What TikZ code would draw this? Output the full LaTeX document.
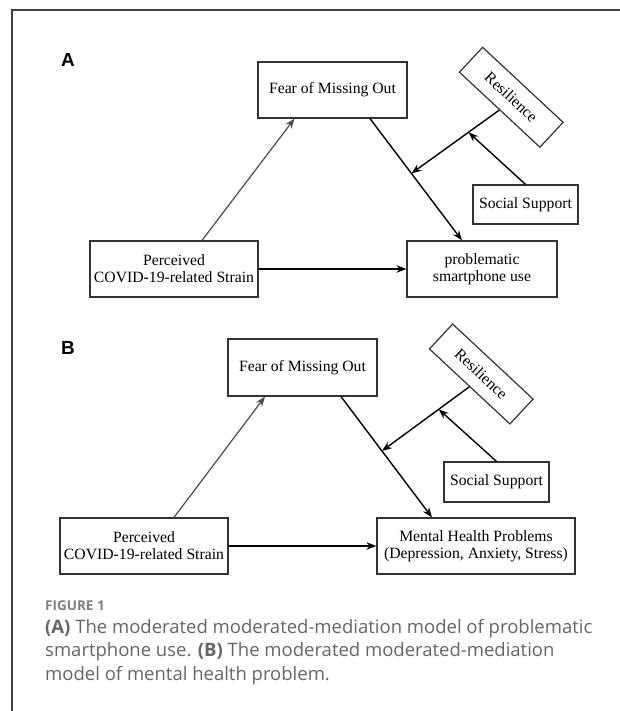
\documentclass[tikz,border=0pt]{standalone}
\usepackage{fontspec}
\setmainfont{Liberation Serif}
\newfontfamily\capfont{Open Sans}
\newfontfamily\labfont{Liberation Sans}
\usetikzlibrary{arrows.meta,calc}
\definecolor{boxgray}{HTML}{333333}
\definecolor{capgray}{HTML}{666666}
\definecolor{figgray}{HTML}{808080}
\begin{document}
\begin{tikzpicture}[x=1pt,y=-1pt,
  box/.style={draw=boxgray, line width=1.2pt, inner sep=0pt, align=center,
    font=\fontsize{15.7}{17}\selectfont},
  arr/.style={draw=black, line width=1.4pt, -{Stealth[length=10pt,width=7.5pt]}},
  garr/.style={draw=black!70, line width=1.2pt, -{Stealth[length=10pt,width=7.5pt]}},
  panel/.style={font=\labfont\bfseries\fontsize{19}{19}\selectfont, anchor=base west, inner sep=0pt},
  captxt/.style={font=\capfont\fontsize{18.5}{22}\selectfont, text=capgray, anchor=base west, inner sep=0pt},
  figlab/.style={font=\capfont\bfseries\fontsize{13.5}{15}\selectfont, text=figgray, anchor=base west, inner sep=0pt}]
\useasboundingbox (0,0) rectangle (620,711);
\fill[white] (0,0) rectangle (620,711);
\draw[line width=1.2pt, black!75] (12,711) -- (12,10) -- (620,10);

% Panel A
\node[panel] (labA) at (61,66.5) {A};
\node[box, minimum width=149pt, minimum height=56pt] (fomoA) at (332.5,90) {Fear of Missing Out};
\node[box, minimum width=110pt, minimum height=34pt, rotate=-43] (resA) at (511.25,97.25) {Resilience};
\node[box, minimum width=105pt, minimum height=39pt] (ssA) at (525.5,204.5) {Social Support};
\node[box, minimum width=168pt, minimum height=56pt] (percA) at (174,269) {Perceived\\COVID-19-related Strain};
\node[box, minimum width=150pt, minimum height=56pt] (probA) at (482,269) {problematic\\smartphone use};
\coordinate (a0) at ($(percA.north)+(28,0)$);
\coordinate (a00) at ($(fomoA.south)+(-38,0)$);
\draw[garr] (a0) -- (a00);
\coordinate (a1) at ($(fomoA.south)+(37.5,0)$);
\coordinate (a2) at ($(probA.north)+(-20,0)$);
\draw[arr] (a1) -- (a2);
\draw[arr] (percA.east) -- (probA.west);
\coordinate (am) at ($(a1)!0.45!(a2)$);
\draw[arr] (resA.south) -- (am);
\coordinate (as) at ($(resA.south)!0.35!(am)$);
\draw[arr] (ssA.north) -- (as);

% Panel B
\node[panel] (labB) at (61,354) {B};
\node[box, minimum width=149pt, minimum height=57pt] (fomoB) at (302.5,367.5) {Fear of Missing Out};
\node[box, minimum width=110pt, minimum height=34pt, rotate=-43] (resB) at (481.25,374) {Resilience};
\node[box, minimum width=105pt, minimum height=40pt] (ssB) at (496.5,482) {Social Support};
\node[box, minimum width=168pt, minimum height=56pt] (percB) at (144,546) {Perceived\\COVID-19-related Strain};
\node[box, minimum width=198pt, minimum height=56pt] (mhB) at (476,546) {Mental Health Problems\\(Depression, Anxiety, Stress)};
\coordinate (b0) at ($(percB.north)+(30,0)$);
\coordinate (b00) at ($(fomoB.south)+(-37.5,0)$);
\draw[garr] (b0) -- (b00);
\coordinate (b1) at ($(fomoB.south)+(38.5,0)$);
\coordinate (b2) at ($(mhB.north)+(-44,0)$);
\draw[arr] (b1) -- (b2);
\draw[arr] (percB.east) -- (mhB.west);
\coordinate (bm) at ($(b1)!0.45!(b2)$);
\draw[arr] (resB.south) -- (bm);
\coordinate (bs) at ($(resB.south)!0.35!(bm)$);
\draw[arr] (ssB.north) -- (bs);

% Caption
\node[figlab] (fig) at (45,610) {FIGURE 1};
\node[captxt] (c1) at (45,633) {\textbf{(A)} The moderated moderated-mediation model of problematic};
\node[captxt] (c2) at (45,656.5) {smartphone use. \textbf{(B)} The moderated moderated-mediation};
\node[captxt] (c3) at (45,680) {model of mental health problem.};
\end{tikzpicture}
\end{document}
